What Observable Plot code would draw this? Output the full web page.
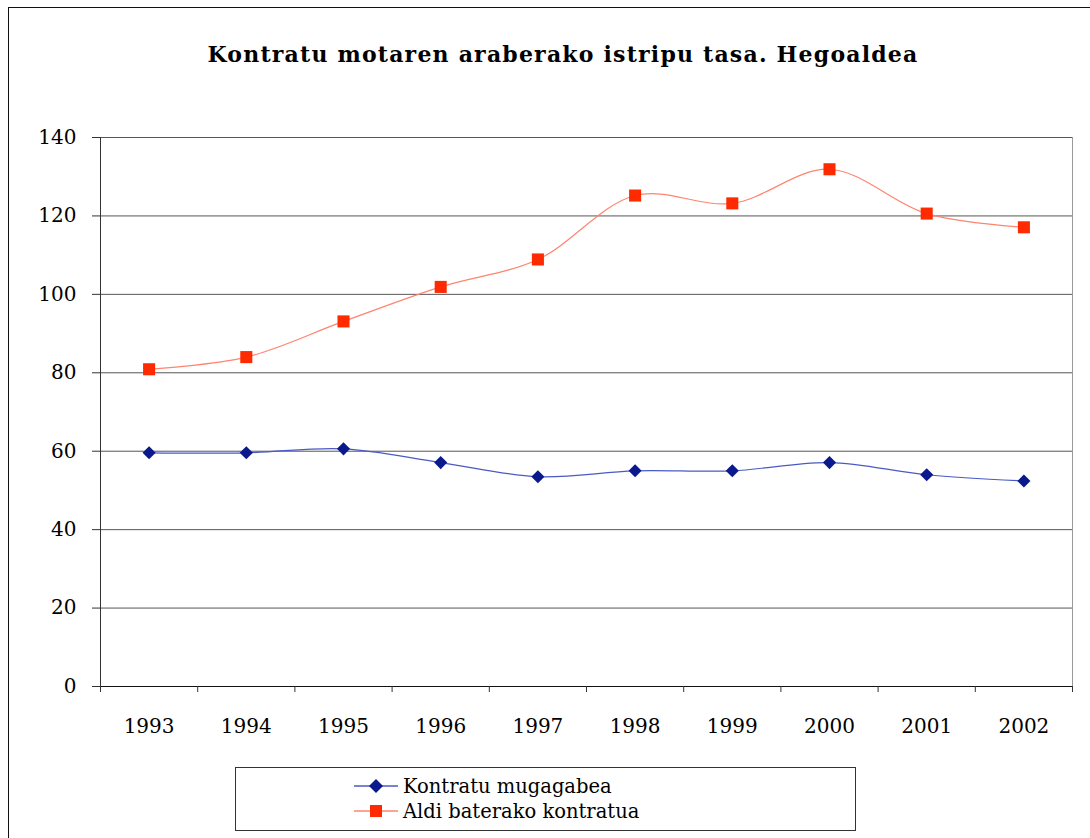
<!DOCTYPE html>
<html><head><meta charset="utf-8">
<script src="https://cdn.jsdelivr.net/npm/d3@7"></script>
<script src="https://cdn.jsdelivr.net/npm/@observablehq/plot@0.6"></script>
<style>
body{margin:0;background:#fff;}
#frame{position:relative;width:1090px;height:838px;overflow:hidden;font-family:"DejaVu Serif",serif;color:#000;}
#border{position:absolute;left:8px;top:7px;width:1200px;height:1000px;border:1px solid #111;}
#title{position:absolute;left:0;width:1126px;top:40px;text-align:center;font-weight:bold;font-size:22px;letter-spacing:1.2px;line-height:28px;}
#chart{position:absolute;left:0;top:100px;}
#legend{position:absolute;left:235px;top:767px;width:619px;height:62px;border:1px solid #333;background:#fff;}
.item{position:absolute;left:118px;height:24px;display:flex;align-items:center;font-size:19.5px;white-space:nowrap;}
.item svg{margin-right:5px;}
</style></head>
<body>
<div id="frame">
  <div id="border"></div>
  <div id="title">Kontratu motaren araberako istripu tasa. Hegoaldea</div>
  <div id="chart"></div>
  <div id="legend"></div>
</div>
<script>
const years = ["1993","1994","1995","1996","1997","1998","1999","2000","2001","2002"];
const seriesNames = ["Kontratu mugagabea","Aldi baterako kontratua"];
const mugagabea = [59.6, 59.6, 60.6, 57.1, 53.5, 55.0, 55.0, 57.1, 54.0, 52.4];
const aldiBaterako = [80.9, 84.0, 93.1, 101.9, 108.9, 125.2, 123.2, 131.9, 120.6, 117.1];
const yTicks = [0,20,40,60,80,100,120,140];
const seriesColors = {line:["#4a5ac4","#ff8470"], mark:["#0a1a8c","#ff2a00"]};

const blue = years.map((y,i)=>({x:i+0.5, v:mugagabea[i]}));
const red = years.map((y,i)=>({x:i+0.5, v:aldiBaterako[i]}));
const centers = years.map((y,i)=>i+0.5);
const bounds = d3.range(0, years.length+1);

const chart = Plot.plot({
  width:1090, height:660,
  marginLeft:100, marginRight:18, marginTop:37, marginBottom:74,
  x:{domain:[0, years.length], label:null},
  y:{domain:[0,140], label:null},
  style:{fontFamily:"DejaVu Serif", fontSize:"20px", color:"#000", background:"transparent", overflow:"visible"},
  marks:[
    Plot.gridY(yTicks, {stroke:"#555", strokeOpacity:1, strokeWidth:1}),
    Plot.ruleX([years.length], {stroke:"#999"}),
    Plot.ruleX([0], {stroke:"#333"}),
    Plot.ruleY([0], {stroke:"#111"}),
    Plot.axisY(yTicks, {tickSize:8, tickPadding:16, stroke:"#333", label:null}),
    Plot.axisX(centers, {tickSize:0, tickPadding:32, tickFormat:d=>years[Math.round(d-0.5)], label:null}),
    Plot.axisX(bounds, {tickSize:6, tickFormat:()=>"", stroke:"#333", label:null}),
    Plot.line(blue, {x:"x", y:"v", curve:"catmull-rom", stroke:seriesColors.line[0], strokeWidth:1.2}),
    Plot.line(red, {x:"x", y:"v", curve:"catmull-rom", stroke:seriesColors.line[1], strokeWidth:1.2}),
    Plot.dot(blue, {x:"x", y:"v", symbol:"diamond2", r:5.9, fill:seriesColors.mark[0], stroke:"none"}),
    Plot.dot(red, {x:"x", y:"v", symbol:"square", r:6.8, fill:seriesColors.mark[1], stroke:"none"})
  ]
});
document.getElementById("chart").appendChild(chart);

// legend
const legend = document.getElementById("legend");
const rowsY = [6, 31];
seriesNames.forEach((name,i)=>{
  const div = document.createElement("div");
  div.className = "item";
  div.style.top = rowsY[i]+"px";
  const marker = i===0
    ? `<path d="M22,5 L29,12 L22,19 L15,12 Z" fill="${seriesColors.mark[0]}"/>`
    : `<rect x="16" y="6" width="12" height="12" fill="${seriesColors.mark[1]}"/>`;
  div.innerHTML = `<svg width="44" height="24"><line x1="0" x2="44" y1="12" y2="12" stroke="${seriesColors.line[i]}" stroke-width="1.5"/>${marker}</svg><span>${name}</span>`;
  legend.appendChild(div);
});
</script>
</body></html>
